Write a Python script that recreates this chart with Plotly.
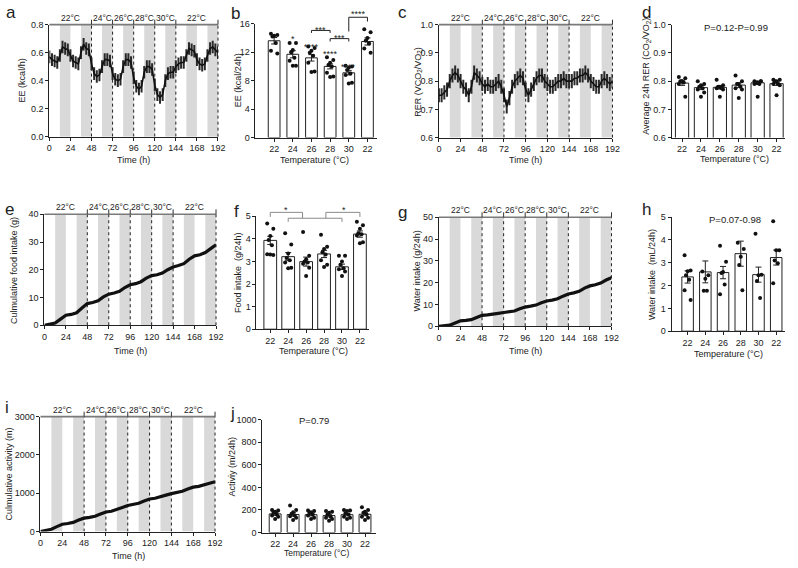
import plotly.graph_objects as go

W, H = 798, 568

# ------------------------------------------------------------------ data
temps = ["22", "24", "26", "28", "30", "22"]
time_ticks = [0, 24, 48, 72, 96, 120, 144, 168, 192]
temp_labels = ["22°C", "24°C", "26°C", "28°C", "30°C", "22°C"]
temp_label_hours = [24, 60, 84, 108, 132, 168]
temp_switch_hours = [48, 72, 96, 120, 144]
dark_start_hours = [12, 36, 60, 84, 108, 132, 156, 180]

hours_3h = list(range(0, 193, 3))
hours_6h = list(range(0, 193, 6))

ee_trace = [0.57, 0.55, 0.54, 0.53, 0.58, 0.64, 0.63, 0.62,
            0.58, 0.54, 0.53, 0.52, 0.60, 0.66, 0.63, 0.62,
            0.52, 0.45, 0.43, 0.44, 0.50, 0.55, 0.55, 0.54,
            0.45, 0.41, 0.40, 0.41, 0.50, 0.55, 0.55, 0.53,
            0.42, 0.36, 0.34, 0.36, 0.46, 0.50, 0.50, 0.48,
            0.37, 0.30, 0.28, 0.30, 0.40, 0.45, 0.46, 0.46,
            0.50, 0.52, 0.53, 0.53, 0.58, 0.63, 0.62, 0.61,
            0.55, 0.52, 0.51, 0.52, 0.58, 0.63, 0.64, 0.62, 0.60]
ee_trace_sem = 0.045

rer_trace = [0.75, 0.75, 0.76, 0.77, 0.80, 0.82, 0.83, 0.82,
             0.80, 0.78, 0.77, 0.75, 0.78, 0.83, 0.82, 0.81,
             0.79, 0.78, 0.79, 0.78, 0.78, 0.79, 0.80, 0.78,
             0.75, 0.71, 0.74, 0.78, 0.80, 0.81, 0.82, 0.81,
             0.77, 0.75, 0.77, 0.79, 0.81, 0.82, 0.82, 0.80,
             0.79, 0.78, 0.78, 0.79, 0.80, 0.80, 0.81, 0.80,
             0.80, 0.80, 0.81, 0.81, 0.82, 0.82, 0.83, 0.82,
             0.80, 0.79, 0.78, 0.78, 0.80, 0.81, 0.80, 0.79, 0.80]
rer_trace_sem = 0.025

food_cum = [0, 0.3, 0.8, 2.2, 3.6, 3.9, 4.5, 6.2, 7.8, 8.2, 8.8, 10.2, 11.2,
            11.6, 12.2, 13.6, 14.6, 15.0, 15.7, 17.0, 17.9, 18.2, 18.8, 20.0,
            21.0, 21.5, 22.2, 23.8, 25.0, 25.4, 26.2, 27.6, 29.0]
water_cum = [0, 0.2, 0.5, 1.5, 2.5, 2.7, 3.0, 4.0, 5.0, 5.2, 5.4, 5.9, 6.3,
             6.6, 7.0, 8.0, 8.8, 9.2, 9.7, 10.8, 11.6, 12.0, 12.6, 13.8,
             14.8, 15.3, 16.0, 17.5, 18.5, 19.0, 19.8, 21.2, 22.3]
activity_cum = [0, 30, 60, 130, 190, 210, 240, 300, 350, 370, 400, 460, 510,
                530, 570, 630, 680, 700, 740, 800, 850, 870, 900, 950, 990,
                1010, 1050, 1110, 1160, 1180, 1210, 1260, 1300]

ee24_mean = [13.6, 11.7, 11.2, 10.0, 9.1, 13.5]
ee24_sem = [0.45, 0.5, 0.45, 0.35, 0.3, 0.5]
ee24_pts = [[14.6, 14.4, 14.3, 14.2, 13.3, 12.2, 11.8],
            [13.3, 13.3, 12.3, 12.0, 11.2, 10.8, 10.1, 10.1],
            [12.8, 12.6, 12.2, 11.9, 11.5, 10.5, 9.3, 9.2],
            [11.3, 10.9, 10.5, 10.2, 10.0, 9.1, 8.6, 8.5],
            [10.1, 10.0, 9.8, 9.5, 9.0, 8.8, 7.7, 7.6],
            [15.2, 14.8, 14.0, 13.6, 13.2, 12.5, 11.9]]

rer24_mean = [0.793, 0.777, 0.778, 0.786, 0.794, 0.791]
rer24_sem = [0.008, 0.007, 0.006, 0.008, 0.006, 0.006]
rer24_pts = [[0.815, 0.81, 0.80, 0.80, 0.795, 0.79, 0.745, 0.80],
             [0.80, 0.79, 0.785, 0.78, 0.775, 0.77, 0.76, 0.745],
             [0.805, 0.785, 0.78, 0.78, 0.775, 0.775, 0.77, 0.745],
             [0.82, 0.80, 0.79, 0.79, 0.78, 0.775, 0.77, 0.74],
             [0.80, 0.80, 0.795, 0.795, 0.79, 0.79, 0.80, 0.745],
             [0.805, 0.805, 0.80, 0.80, 0.79, 0.79, 0.785, 0.75]]

food24_mean = [3.93, 3.21, 2.99, 3.33, 2.76, 4.21]
food24_sem = [0.18, 0.18, 0.2, 0.16, 0.12, 0.14]
food24_pts = [[4.68, 4.45, 4.12, 3.95, 3.72, 3.32, 3.28, 3.30],
              [4.25, 3.75, 3.35, 3.15, 3.05, 2.95, 2.72, 2.70],
              [4.30, 3.25, 3.10, 3.00, 2.95, 2.90, 2.72, 2.35],
              [4.18, 3.65, 3.55, 3.40, 3.30, 3.05, 2.85, 2.75],
              [3.25, 3.25, 3.00, 2.85, 2.70, 2.65, 2.55, 2.35],
              [4.75, 4.60, 4.45, 4.25, 4.20, 4.15, 3.85, 3.80]]

water24_mean = [2.38, 2.6, 2.57, 3.4, 2.48, 3.23]
water24_sem = [0.27, 0.48, 0.27, 0.55, 0.33, 0.33]
water24_pts = [[3.33, 2.66, 2.63, 2.45, 2.26, 1.8, 1.37],
               [2.62, 2.45, 2.3, 1.77, 1.77],
               [3.75, 3.05, 2.6, 2.55, 2.05, 1.62],
               [3.88, 3.6, 3.27, 2.9, 1.8],
               [4.27, 2.48, 2.45, 2.2, 1.45],
               [4.82, 3.55, 3.55, 3.1, 2.98, 2.1]]

act24_mean = [165, 160, 158, 150, 158, 162]
act24_sem = [12, 15, 10, 11, 10, 13]
act24_pts = [[200, 195, 185, 175, 160, 150, 140, 120],
             [240, 200, 180, 165, 150, 145, 130, 110],
             [195, 190, 180, 175, 160, 150, 130, 120],
             [190, 185, 175, 160, 140, 130, 120, 105],
             [200, 195, 190, 170, 160, 140, 130, 120],
             [225, 200, 185, 175, 160, 140, 130, 110]]

# ------------------------------------------------------------------ layout config
FONT = "Liberation Sans, Arial, sans-serif"
INK = "#222"
TICK_FS = 9
TITLE_FS = 9

PANELS = {
    "a": dict(n=1, px=(47, 218, 20, 134), xr=(0, 192), yr=(0, 0.8),
              ytv=[0, 0.2, 0.4, 0.6, 0.8], ytt=["0.0", "0.2", "0.4", "0.6", "0.8"]),
    "b": dict(n=2, px=(256, 379, 19, 135), xr=(-1, 5.5), yr=(0, 16),
              ytv=[0, 4, 8, 12, 16], ytt=["0", "4", "8", "12", "16"]),
    "c": dict(n=3, px=(442, 618, 20, 135), xr=(0, 192), yr=(0.6, 1.0),
              ytv=[0.6, 0.7, 0.8, 0.9, 1.0], ytt=["0.6", "0.7", "0.8", "0.9", "1.0"]),
    "d": dict(n=4, px=(678, 793, 20, 135), xr=(-0.55, 5.45), yr=(0.6, 1.0),
              ytv=[0.6, 0.7, 0.8, 0.9, 1.0], ytt=["0.6", "0.7", "0.8", "0.9", "1.0"]),
    "e": dict(n=5, px=(42, 216, 213, 326), xr=(0, 192), yr=(0, 40),
              ytv=[0, 10, 20, 30, 40], ytt=["0", "10", "20", "30", "40"]),
    "f": dict(n=6, px=(257, 371, 215, 330), xr=(-0.77, 5.5), yr=(0, 5),
              ytv=[0, 1, 2, 3, 4, 5], ytt=["0", "1", "2", "3", "4", "5"]),
    "g": dict(n=7, px=(442, 617, 216, 327), xr=(0, 192), yr=(0, 50),
              ytv=[0, 10, 20, 30, 40, 50], ytt=["0", "10", "20", "30", "40", "50"]),
    "h": dict(n=8, px=(678, 793, 216, 332), xr=(-0.9, 5.5), yr=(0, 5),
              ytv=[0, 1, 2, 3, 4, 5], ytt=["0", "1", "2", "3", "4", "5"]),
    "i": dict(n=9, px=(38, 215, 419, 536), xr=(0, 192), yr=(0, 3000),
              ytv=[0, 1000, 2000, 3000], ytt=["0", "1000", "2000", "3000"]),
    "j": dict(n=10, px=(263, 378, 422, 537), xr=(-0.71, 5.6), yr=(0, 1000),
              ytv=[0, 200, 400, 600, 800, 1000], ytt=["0", "200", "400", "600", "800", "1000"]),
}
TIME_PANELS = ["a", "c", "e", "g", "i"]


def ref(key):
    n = PANELS[key]["n"]
    return ("x" if n == 1 else f"x{n}"), ("y" if n == 1 else f"y{n}")


def to_paper(key, xv, yv):
    p = PANELS[key]
    l, r, t, b = p["px"]
    x0, x1 = p["xr"]
    y0, y1 = p["yr"]
    px = l + (xv - x0) / (x1 - x0) * (r - l)
    py = b - (yv - y0) / (y1 - y0) * (b - t)
    return px / W, 1 - py / H


def pp(px, py):
    return px / W, 1 - py / H


fig = go.Figure()
shapes = []
annotations = []
layout = dict(width=W, height=H, margin=dict(l=0, r=0, t=0, b=0), autosize=False,
              paper_bgcolor="white", plot_bgcolor="white", showlegend=False,
              font=dict(family=FONT, size=TICK_FS, color=INK))

for key, p in PANELS.items():
    n = p["n"]
    l, r, t, b = p["px"]
    sx = "" if n == 1 else str(n)
    is_time = key in TIME_PANELS
    layout["xaxis" + sx] = dict(
        domain=[l / W, r / W], range=list(p["xr"]), anchor="y" + sx,
        showline=True, linecolor=INK, linewidth=1, ticks="outside", ticklen=3,
        tickwidth=1, tickcolor=INK, showgrid=False, zeroline=False,
        tickvals=time_ticks if is_time else list(range(6)),
        ticktext=[str(v) for v in time_ticks] if is_time else temps,
        tickfont=dict(size=TICK_FS, color=INK, family=FONT), fixedrange=True)
    layout["yaxis" + sx] = dict(
        domain=[1 - b / H, 1 - t / H], range=list(p["yr"]), anchor="x" + sx,
        showline=True, linecolor=INK, linewidth=1, ticks="outside", ticklen=3,
        tickwidth=1, tickcolor=INK, showgrid=False, zeroline=False,
        tickvals=p["ytv"], ticktext=p["ytt"],
        tickfont=dict(size=TICK_FS, color=INK, family=FONT), fixedrange=True)

# ------------------------------------------------------------------ time-series decorations
for key in TIME_PANELS:
    xr_, yr_ = ref(key)
    y0, y1 = PANELS[key]["yr"]
    for s in dark_start_hours:
        shapes.append(dict(type="rect", xref=xr_, yref=yr_, x0=s, x1=s + 12, y0=y0, y1=y1,
                           fillcolor="#d9d9d9", line=dict(width=0), layer="below"))
    for hh in temp_switch_hours:
        shapes.append(dict(type="line", xref=xr_, yref=yr_, x0=hh, x1=hh, y0=y0, y1=y1,
                           line=dict(color=INK, width=1, dash="dot"), layer="below"))
    xa, ya0 = to_paper(key, 192, y0)
    _, ya1 = to_paper(key, 192, y1)
    shapes.append(dict(type="line", xref="paper", yref="paper", x0=xa, x1=xa, y0=ya0, y1=ya1,
                       line=dict(color=INK, width=1, dash="dot")))
    xl, yt = to_paper(key, 0, y1)
    shapes.append(dict(type="line", xref="paper", yref="paper", x0=xl, x1=xa, y0=yt, y1=yt,
                       line=dict(color="#7a7a7a", width=1.6)))
    for hh in temp_switch_hours + [192]:
        xh, _ = to_paper(key, hh, y1)
        shapes.append(dict(type="line", xref="paper", yref="paper", x0=xh, x1=xh,
                           y0=yt, y1=yt + 5 / H, line=dict(color="#333", width=1)))
    for lab, hh in zip(temp_labels, temp_label_hours):
        xh, _ = to_paper(key, hh, y1)
        annotations.append(dict(text=lab, x=xh, y=yt, xref="paper", yref="paper",
                                xanchor="center", yanchor="bottom", showarrow=False,
                                font=dict(size=8.5, color=INK, family=FONT)))

# ------------------------------------------------------------------ time-series traces
xa_, ya_ = ref("a")
fig.add_trace(go.Scatter(x=hours_3h, y=ee_trace, mode="lines", xaxis=xa_, yaxis=ya_,
                         line=dict(color="#111", width=1.6),
                         error_y=dict(type="constant", value=ee_trace_sem, color="#2a2a2a",
                                      thickness=2.0, width=0)))
xa_, ya_ = ref("c")
fig.add_trace(go.Scatter(x=hours_3h, y=rer_trace, mode="lines", xaxis=xa_, yaxis=ya_,
                         line=dict(color="#111", width=1.6),
                         error_y=dict(type="constant", value=rer_trace_sem, color="#2a2a2a",
                                      thickness=2.0, width=0)))
for key, series in (("e", food_cum), ("g", water_cum), ("i", activity_cum)):
    xa_, ya_ = ref(key)
    fig.add_trace(go.Scatter(x=hours_6h, y=series, mode="lines", xaxis=xa_, yaxis=ya_,
                             line=dict(color="#111", width=3.2)))

# ------------------------------------------------------------------ bar panels
OFFS = [-0.17, 0.17, 0.0, -0.09, 0.09, -0.17, 0.17, 0.0]


def bar_panel(key, means, sems, pts, bar_w):
    xa_, ya_ = ref(key)
    xs = list(range(len(means)))
    fig.add_trace(go.Bar(x=xs, y=means, width=bar_w, xaxis=xa_, yaxis=ya_,
                         marker=dict(color="white", line=dict(color=INK, width=1)),
                         error_y=dict(type="data", array=sems, color=INK, thickness=1, width=3)))
    for i, grp in enumerate(pts):
        ox = [i + OFFS[k % len(OFFS)] for k in range(len(grp))]
        fig.add_trace(go.Scatter(x=ox, y=grp, mode="markers", xaxis=xa_, yaxis=ya_,
                                 cliponaxis=False,
                                 marker=dict(size=4, color="#111", line=dict(width=0))))


bar_panel("b", ee24_mean, ee24_sem, ee24_pts, 0.63)
bar_panel("d", rer24_mean, rer24_sem, rer24_pts, 0.7)
bar_panel("f", food24_mean, food24_sem, food24_pts, 0.71)
bar_panel("h", water24_mean, water24_sem, water24_pts, 0.65)
bar_panel("j", act24_mean, act24_sem, act24_pts, 0.66)


def seg(key, xa, ya, xb, yb, color=INK):
    x0, y0 = to_paper(key, xa, ya)
    x1, y1 = to_paper(key, xb, yb)
    shapes.append(dict(type="line", xref="paper", yref="paper", x0=x0, y0=y0, x1=x1, y1=y1,
                       line=dict(color=color, width=1)))


def stars(key, xv, yv, txt, color=INK):
    x, y = to_paper(key, xv, yv)
    annotations.append(dict(text=txt, x=x, y=y, xref="paper", yref="paper", xanchor="center",
                            yanchor="middle", yshift=-2.5, showarrow=False,
                            font=dict(size=9, color=color, family=FONT)))


# significance marks panel b
stars("b", 1, 14.15, "*")
stars("b", 2, 13.1, "****")
stars("b", 3, 12.05, "****")
stars("b", 4, 10.3, "****")
seg("b", 2, 15.05, 3, 15.05); seg("b", 2, 15.05, 2, 14.7); seg("b", 3, 15.05, 3, 14.7)
stars("b", 2.5, 15.5, "***")
seg("b", 3, 13.9, 4, 13.9); seg("b", 3, 13.9, 3, 13.5); seg("b", 4, 13.9, 4, 13.5)
stars("b", 3.5, 14.3, "***")
seg("b", 4, 16.9, 5, 16.9); seg("b", 4, 16.9, 4, 14.9); seg("b", 5, 16.9, 5, 16.3)
stars("b", 4.5, 17.75, "****")

# brackets panel f
GR = "#8a8a8a"
seg("f", 0, 5.17, 1.8, 5.17, GR); seg("f", 0, 5.17, 0, 4.97, GR); seg("f", 1.8, 5.17, 1.8, 4.91, GR)
seg("f", 1, 4.91, 4, 4.91, GR); seg("f", 1, 4.91, 1, 4.75, GR); seg("f", 4, 4.91, 4, 4.75, GR)
seg("f", 3.1, 5.17, 5, 5.17, GR); seg("f", 3.1, 5.17, 3.1, 4.91, GR); seg("f", 5, 5.17, 5, 4.97, GR)
stars("f", 0.9, 5.38, "*")
stars("f", 4.1, 5.38, "*")


# ------------------------------------------------------------------ text labels
def text(px, py, s, size=TITLE_FS, angle=0):
    x, y = pp(px, py)
    annotations.append(dict(text=s, x=x, y=y, xref="paper", yref="paper", xanchor="center",
                            yanchor="middle", showarrow=False, textangle=angle,
                            font=dict(size=size, color=INK, family=FONT)))


NB = "\u00a0"
ytitles = [(19, 77, "EE (kcal/h)"), (238, 77, "EE (kcal/24h)"),
           (421, 78, "RER (VCO<sub>2</sub>/VO<sub>2</sub>)"),
           (653, 72, "Average 24h RER (CO<sub>2</sub>/VO<sub>2</sub>)"),
           (11, 270, "Culmulative food intake (g)"), (238, 272, "Food intake" + NB + " (g/24h)"),
           (420, 271, "Water intake (g/24h)"), (658, 274, "Water intake" + NB + " (mL/24h)"),
           (6, 477, "Culmulative activity (m)"), (232, 470, "Activiy (m/24h)")]
for px, py, s in ytitles:
    text(px, py, s, TITLE_FS, -90)

xtitles = [(132, 158, "Time (h)"), (316, 158, "Temperature (°C)"), (530, 158, "Time (h)"),
           (742, 157, "Temperature (°C)"), (129, 352, "Time (h)"), (315, 352, "Temperature (°C)"),
           (530, 352, "Time (h)"), (736, 355, "Temperature (°C)"), (127, 561, "Time (h)")]
for px, py, s in xtitles:
    text(px, py, s, TITLE_FS)
text(318, 558, "Temperature (°C)", 8.5)

letters = [(8, 8, "a"), (236, 9, "b"), (405, 8, "c"), (652, 8, "d"), (7, 208, "e"),
           (237, 210, "f"), (405, 211, "g"), (653, 208, "h"), (4, 410, "i"), (233, 416, "j")]
for px, py, s in letters:
    text(px, py, s, 17)

text(743, 23, "P=0.12-P=0.99", 9.5)
text(742, 218, "P=0.07-0.98", 9.5)
text(315, 423, "P=0.79", 9.5)

layout["shapes"] = shapes
layout["annotations"] = annotations
fig.update_layout(**layout)
fig.write_html("out.html", config={"displayModeBar": False},
               post_script="document.body.style.margin='0';document.body.style.padding='0';")
